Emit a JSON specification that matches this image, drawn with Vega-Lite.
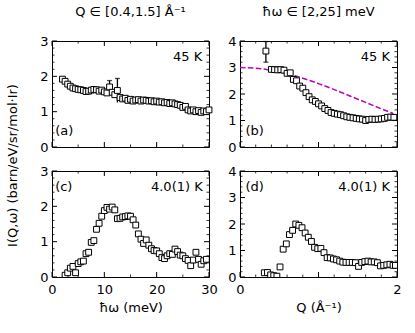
{
"$schema": "https://vega.github.io/schema/vega-lite/v6.json",
"padding": {"left": 5, "top": 5, "right": 0, "bottom": 0},
"background": "white",
"datasets": {
"a": [{"x":2.0,"y":1.92},{"x":2.5,"y":1.86},{"x":3.0,"y":1.78},{"x":3.5,"y":1.72},{"x":4.0,"y":1.67},{"x":4.5,"y":1.65},{"x":5.0,"y":1.63},{"x":5.5,"y":1.62},{"x":6.0,"y":1.60},{"x":6.5,"y":1.57},{"x":7.0,"y":1.58},{"x":7.5,"y":1.61},{"x":8.0,"y":1.63},{"x":8.5,"y":1.62},{"x":9.0,"y":1.58},{"x":9.5,"y":1.61},{"x":10.0,"y":1.56},{"x":10.5,"y":1.53},{"x":11.0,"y":1.70},{"x":11.5,"y":1.55},{"x":12.0,"y":1.48},{"x":12.5,"y":1.60},{"x":13.0,"y":1.40},{"x":13.5,"y":1.36},{"x":14.0,"y":1.38},{"x":14.5,"y":1.32},{"x":15.0,"y":1.35},{"x":15.5,"y":1.30},{"x":16.0,"y":1.33},{"x":16.5,"y":1.34},{"x":17.0,"y":1.30},{"x":17.5,"y":1.33},{"x":18.0,"y":1.32},{"x":18.5,"y":1.30},{"x":19.0,"y":1.31},{"x":19.5,"y":1.28},{"x":20.0,"y":1.30},{"x":20.5,"y":1.27},{"x":21.0,"y":1.28},{"x":21.5,"y":1.25},{"x":22.0,"y":1.26},{"x":22.5,"y":1.23},{"x":23.0,"y":1.25},{"x":23.5,"y":1.22},{"x":24.0,"y":1.20},{"x":24.5,"y":1.18},{"x":25.0,"y":1.12},{"x":25.5,"y":1.15},{"x":26.0,"y":1.05},{"x":26.5,"y":1.02},{"x":27.0,"y":1.05},{"x":27.5,"y":1.00},{"x":28.0,"y":1.03},{"x":28.5,"y":0.98},{"x":29.0,"y":1.02},{"x":29.5,"y":1.00},{"x":30.0,"y":1.05}],
"aerr": [{"x":11.0,"lo":1.52,"hi":1.88},{"x":12.5,"lo":1.26,"hi":1.94}],
"b": [{"x":0.33,"y":3.62},{"x":0.40,"y":2.93},{"x":0.44,"y":2.92},{"x":0.48,"y":2.91},{"x":0.52,"y":2.92},{"x":0.56,"y":2.90},{"x":0.60,"y":2.78},{"x":0.64,"y":2.80},{"x":0.68,"y":2.55},{"x":0.72,"y":2.50},{"x":0.76,"y":2.30},{"x":0.80,"y":2.22},{"x":0.84,"y":2.05},{"x":0.88,"y":1.90},{"x":0.92,"y":1.78},{"x":0.96,"y":1.72},{"x":1.00,"y":1.63},{"x":1.04,"y":1.55},{"x":1.08,"y":1.45},{"x":1.12,"y":1.38},{"x":1.16,"y":1.30},{"x":1.20,"y":1.27},{"x":1.24,"y":1.24},{"x":1.28,"y":1.22},{"x":1.32,"y":1.18},{"x":1.36,"y":1.14},{"x":1.40,"y":1.12},{"x":1.44,"y":1.10},{"x":1.48,"y":1.08},{"x":1.52,"y":1.06},{"x":1.56,"y":1.05},{"x":1.60,"y":1.00},{"x":1.64,"y":1.04},{"x":1.68,"y":1.05},{"x":1.72,"y":1.04},{"x":1.76,"y":1.05},{"x":1.80,"y":1.06},{"x":1.84,"y":1.08},{"x":1.88,"y":1.12},{"x":1.92,"y":1.13},{"x":1.96,"y":1.12}],
"berr": [{"x":0.33,"lo":3.2,"hi":3.98}],
"bline": [{"x":0.0,"y":3.0},{"x":0.1,"y":2.993},{"x":0.2,"y":2.973},{"x":0.3,"y":2.94},{"x":0.4,"y":2.893},{"x":0.5,"y":2.835},{"x":0.6,"y":2.766},{"x":0.7,"y":2.686},{"x":0.8,"y":2.596},{"x":0.9,"y":2.498},{"x":1.0,"y":2.393},{"x":1.1,"y":2.282},{"x":1.2,"y":2.167},{"x":1.3,"y":2.048},{"x":1.4,"y":1.926},{"x":1.5,"y":1.804},{"x":1.6,"y":1.682},{"x":1.7,"y":1.561},{"x":1.8,"y":1.442},{"x":1.9,"y":1.327},{"x":1.95,"y":1.27}],
"c": [{"x":2.5,"y":0.05},{"x":3.0,"y":0.12},{"x":3.5,"y":0.25},{"x":4.0,"y":0.30},{"x":4.5,"y":0.12},{"x":5.0,"y":0.38},{"x":5.5,"y":0.43},{"x":6.0,"y":0.45},{"x":6.5,"y":0.66},{"x":7.0,"y":0.70},{"x":7.5,"y":0.98},{"x":8.0,"y":1.03},{"x":8.5,"y":1.35},{"x":9.0,"y":1.52},{"x":9.5,"y":1.72},{"x":10.0,"y":1.88},{"x":10.5,"y":1.97},{"x":11.0,"y":1.92},{"x":11.5,"y":1.98},{"x":12.0,"y":1.90},{"x":12.5,"y":1.65},{"x":13.0,"y":1.66},{"x":13.5,"y":1.70},{"x":14.0,"y":1.71},{"x":14.5,"y":1.73},{"x":15.0,"y":1.72},{"x":15.5,"y":1.62},{"x":16.0,"y":1.47},{"x":16.5,"y":1.22},{"x":17.0,"y":1.07},{"x":17.5,"y":0.95},{"x":18.0,"y":1.05},{"x":18.5,"y":0.90},{"x":19.0,"y":0.80},{"x":19.5,"y":0.75},{"x":20.0,"y":0.74},{"x":20.5,"y":0.66},{"x":21.0,"y":0.55},{"x":21.5,"y":0.52},{"x":22.0,"y":0.60},{"x":22.5,"y":0.66},{"x":23.0,"y":0.64},{"x":23.5,"y":0.79},{"x":24.0,"y":0.72},{"x":24.5,"y":0.62},{"x":25.0,"y":0.60},{"x":25.5,"y":0.52},{"x":26.0,"y":0.47},{"x":26.5,"y":0.32},{"x":27.0,"y":0.48},{"x":27.5,"y":0.70},{"x":28.0,"y":0.50},{"x":28.5,"y":0.36},{"x":29.0,"y":0.46},{"x":29.5,"y":0.50}],
"d": [{"x":0.31,"y":0.16},{"x":0.35,"y":0.17},{"x":0.39,"y":0.08},{"x":0.43,"y":0.05},{"x":0.47,"y":0.03},{"x":0.51,"y":0.38},{"x":0.55,"y":1.05},{"x":0.59,"y":1.25},{"x":0.63,"y":1.60},{"x":0.67,"y":1.76},{"x":0.71,"y":2.00},{"x":0.75,"y":1.95},{"x":0.79,"y":1.86},{"x":0.83,"y":1.66},{"x":0.87,"y":1.50},{"x":0.91,"y":1.34},{"x":0.95,"y":1.12},{"x":0.99,"y":1.07},{"x":1.03,"y":1.08},{"x":1.07,"y":0.92},{"x":1.11,"y":0.73},{"x":1.15,"y":0.72},{"x":1.19,"y":0.68},{"x":1.23,"y":0.65},{"x":1.27,"y":0.60},{"x":1.31,"y":0.56},{"x":1.35,"y":0.55},{"x":1.39,"y":0.55},{"x":1.43,"y":0.55},{"x":1.47,"y":0.54},{"x":1.51,"y":0.40},{"x":1.55,"y":0.55},{"x":1.59,"y":0.58},{"x":1.63,"y":0.60},{"x":1.67,"y":0.57},{"x":1.71,"y":0.57},{"x":1.75,"y":0.54},{"x":1.79,"y":0.42},{"x":1.83,"y":0.44},{"x":1.87,"y":0.46},{"x":1.91,"y":0.48},{"x":1.95,"y":0.44},{"x":1.98,"y":0.44}],
"one": [{}],
"xmajE": [{"v":0},{"v":10},{"v":20},{"v":30}],
"xminE": [{"v":5},{"v":15},{"v":25}],
"xmajQ": [{"v":0},{"v":1},{"v":2}],
"xminQ": [{"v":0.2},{"v":0.4},{"v":0.6},{"v":0.8},{"v":1.2},{"v":1.4},{"v":1.6},{"v":1.8}],
"ymaj3": [{"v":0},{"v":1},{"v":2},{"v":3}],
"ymin3": [{"v":0.2},{"v":0.4},{"v":0.6},{"v":0.8},{"v":1.2},{"v":1.4},{"v":1.6},{"v":1.8},{"v":2.2},{"v":2.4},{"v":2.6},{"v":2.8}],
"ymaj4": [{"v":0},{"v":1},{"v":2},{"v":3},{"v":4}],
"ymin4": [{"v":0.2},{"v":0.4},{"v":0.6},{"v":0.8},{"v":1.2},{"v":1.4},{"v":1.6},{"v":1.8},{"v":2.2},{"v":2.4},{"v":2.6},{"v":2.8},{"v":3.2},{"v":3.4},{"v":3.6},{"v":3.8}]
},
"columns": 2,
"bounds": "flush",
"spacing": {"row": 24, "column": 31},
"concat": [
{
"width": 157, "height": 106,
"title": {"text": "Q ∈ [0.4,1.5] Å⁻¹", "offset": 16},
"resolve": {"axis": {"x": "independent", "y": "independent"}},
"layer": [
{"data": {"name": "xmajE"}, "mark": {"type": "rule", "strokeWidth": 1, "color": "black"},
 "encoding": {"x": {"field": "v", "type": "quantitative", "scale": {"domain": [0, 30]}, "axis": null}, "y": {"datum": 0, "type": "quantitative", "scale": {"domain": [0, 3]}, "axis": null}, "y2": {"datum": 0.1415}}},
{"data": {"name": "xmajE"}, "mark": {"type": "rule", "strokeWidth": 1, "color": "black"},
 "encoding": {"x": {"field": "v", "type": "quantitative", "scale": {"domain": [0, 30]}, "axis": null}, "y": {"datum": 3, "type": "quantitative", "scale": {"domain": [0, 3]}, "axis": null}, "y2": {"datum": 2.8585}}},
{"data": {"name": "xminE"}, "mark": {"type": "rule", "strokeWidth": 0.8, "color": "black"},
 "encoding": {"x": {"field": "v", "type": "quantitative", "scale": {"domain": [0, 30]}, "axis": null}, "y": {"datum": 0, "type": "quantitative", "scale": {"domain": [0, 3]}, "axis": null}, "y2": {"datum": 0.0708}}},
{"data": {"name": "xminE"}, "mark": {"type": "rule", "strokeWidth": 0.8, "color": "black"},
 "encoding": {"x": {"field": "v", "type": "quantitative", "scale": {"domain": [0, 30]}, "axis": null}, "y": {"datum": 3, "type": "quantitative", "scale": {"domain": [0, 3]}, "axis": null}, "y2": {"datum": 2.9292}}},
{"data": {"name": "ymaj3"}, "mark": {"type": "rule", "strokeWidth": 1, "color": "black"},
 "encoding": {"y": {"field": "v", "type": "quantitative", "scale": {"domain": [0, 3]}, "axis": null}, "x": {"datum": 0, "type": "quantitative", "scale": {"domain": [0, 30]}, "axis": null}, "x2": {"datum": 0.955}}},
{"data": {"name": "ymaj3"}, "mark": {"type": "rule", "strokeWidth": 1, "color": "black"},
 "encoding": {"y": {"field": "v", "type": "quantitative", "scale": {"domain": [0, 3]}, "axis": null}, "x": {"datum": 30, "type": "quantitative", "scale": {"domain": [0, 30]}, "axis": null}, "x2": {"datum": 29.045}}},
{"data": {"name": "ymin3"}, "mark": {"type": "rule", "strokeWidth": 0.8, "color": "black"},
 "encoding": {"y": {"field": "v", "type": "quantitative", "scale": {"domain": [0, 3]}, "axis": null}, "x": {"datum": 0, "type": "quantitative", "scale": {"domain": [0, 30]}, "axis": null}, "x2": {"datum": 0.478}}},
{"data": {"name": "ymin3"}, "mark": {"type": "rule", "strokeWidth": 0.8, "color": "black"},
 "encoding": {"y": {"field": "v", "type": "quantitative", "scale": {"domain": [0, 3]}, "axis": null}, "x": {"datum": 30, "type": "quantitative", "scale": {"domain": [0, 30]}, "axis": null}, "x2": {"datum": 29.522}}},
{"data": {"name": "aerr"}, "mark": {"type": "rule", "color": "black", "strokeWidth": 1.3},
 "encoding": {"x": {"field": "x", "type": "quantitative", "scale": {"domain": [0, 30]}, "axis": null},
  "y": {"field": "lo", "type": "quantitative", "scale": {"domain": [0, 3]}, "axis": null}, "y2": {"field": "hi"}}},
{"data": {"name": "aerr"}, "mark": {"type": "tick", "orient": "horizontal", "size": 5, "thickness": 1.3, "color": "black"},
 "encoding": {"x": {"field": "x", "type": "quantitative", "scale": {"domain": [0, 30]}, "axis": null},
  "y": {"field": "hi", "type": "quantitative", "scale": {"domain": [0, 3]}, "axis": null}}},
{"data": {"name": "a"}, "mark": {"type": "point", "shape": "square", "size": 34, "filled": true, "fill": "white", "stroke": "black", "strokeWidth": 1, "opacity": 1},
 "encoding": {"x": {"field": "x", "type": "quantitative", "scale": {"domain": [0, 30]}, "axis": null},
  "y": {"field": "y", "type": "quantitative", "scale": {"domain": [0, 3]}, "axis": {"orient": "left", "values": [0,1,2,3], "format": "d", "ticks": false, "labelPadding": 4, "title": "I(Q,ω) (barn/eV/sr/mol·Ir)", "titleX": -40, "titleY": 124, "titleAngle": 270, "titleAlign": "center", "titleBaseline": "middle"}}}},
{"data": {"name": "one"}, "mark": {"type": "text", "align": "right", "baseline": "middle"},
 "encoding": {"x": {"datum": 28.7, "type": "quantitative", "scale": {"domain": [0, 30]}, "axis": null},
  "y": {"datum": 2.55, "type": "quantitative", "scale": {"domain": [0, 3]}, "axis": null}, "text": {"value": "45 K"}}},
{"data": {"name": "one"}, "mark": {"type": "text", "align": "left", "baseline": "middle"},
 "encoding": {"x": {"datum": 0.6, "type": "quantitative", "scale": {"domain": [0, 30]}, "axis": null},
  "y": {"datum": 0.45, "type": "quantitative", "scale": {"domain": [0, 3]}, "axis": null}, "text": {"value": "(a)"}}}
]
},
{
"width": 157, "height": 106,
"title": {"text": "ħω ∈ [2,25] meV", "offset": 16},
"resolve": {"axis": {"x": "independent", "y": "independent"}},
"layer": [
{"data": {"name": "xmajQ"}, "mark": {"type": "rule", "strokeWidth": 1, "color": "black"},
 "encoding": {"x": {"field": "v", "type": "quantitative", "scale": {"domain": [0, 2]}, "axis": null}, "y": {"datum": 0, "type": "quantitative", "scale": {"domain": [0, 4]}, "axis": null}, "y2": {"datum": 0.1887}}},
{"data": {"name": "xmajQ"}, "mark": {"type": "rule", "strokeWidth": 1, "color": "black"},
 "encoding": {"x": {"field": "v", "type": "quantitative", "scale": {"domain": [0, 2]}, "axis": null}, "y": {"datum": 4, "type": "quantitative", "scale": {"domain": [0, 4]}, "axis": null}, "y2": {"datum": 3.8113}}},
{"data": {"name": "xminQ"}, "mark": {"type": "rule", "strokeWidth": 0.8, "color": "black"},
 "encoding": {"x": {"field": "v", "type": "quantitative", "scale": {"domain": [0, 2]}, "axis": null}, "y": {"datum": 0, "type": "quantitative", "scale": {"domain": [0, 4]}, "axis": null}, "y2": {"datum": 0.0943}}},
{"data": {"name": "xminQ"}, "mark": {"type": "rule", "strokeWidth": 0.8, "color": "black"},
 "encoding": {"x": {"field": "v", "type": "quantitative", "scale": {"domain": [0, 2]}, "axis": null}, "y": {"datum": 4, "type": "quantitative", "scale": {"domain": [0, 4]}, "axis": null}, "y2": {"datum": 3.9057}}},
{"data": {"name": "ymaj4"}, "mark": {"type": "rule", "strokeWidth": 1, "color": "black"},
 "encoding": {"y": {"field": "v", "type": "quantitative", "scale": {"domain": [0, 4]}, "axis": null}, "x": {"datum": 0, "type": "quantitative", "scale": {"domain": [0, 2]}, "axis": null}, "x2": {"datum": 0.0637}}},
{"data": {"name": "ymaj4"}, "mark": {"type": "rule", "strokeWidth": 1, "color": "black"},
 "encoding": {"y": {"field": "v", "type": "quantitative", "scale": {"domain": [0, 4]}, "axis": null}, "x": {"datum": 2, "type": "quantitative", "scale": {"domain": [0, 2]}, "axis": null}, "x2": {"datum": 1.9363}}},
{"data": {"name": "ymin4"}, "mark": {"type": "rule", "strokeWidth": 0.8, "color": "black"},
 "encoding": {"y": {"field": "v", "type": "quantitative", "scale": {"domain": [0, 4]}, "axis": null}, "x": {"datum": 0, "type": "quantitative", "scale": {"domain": [0, 2]}, "axis": null}, "x2": {"datum": 0.0318}}},
{"data": {"name": "ymin4"}, "mark": {"type": "rule", "strokeWidth": 0.8, "color": "black"},
 "encoding": {"y": {"field": "v", "type": "quantitative", "scale": {"domain": [0, 4]}, "axis": null}, "x": {"datum": 2, "type": "quantitative", "scale": {"domain": [0, 2]}, "axis": null}, "x2": {"datum": 1.9682}}},
{"data": {"name": "bline"}, "mark": {"type": "line", "color": "#bf00bf", "strokeWidth": 1.5, "strokeDash": [5.5, 2.4]},
 "encoding": {"x": {"field": "x", "type": "quantitative", "scale": {"domain": [0, 2]}, "axis": null},
  "y": {"field": "y", "type": "quantitative", "scale": {"domain": [0, 4]}, "axis": null}}},
{"data": {"name": "berr"}, "mark": {"type": "rule", "color": "black", "strokeWidth": 1.3, "clip": true},
 "encoding": {"x": {"field": "x", "type": "quantitative", "scale": {"domain": [0, 2]}, "axis": null},
  "y": {"field": "lo", "type": "quantitative", "scale": {"domain": [0, 4]}, "axis": null}, "y2": {"field": "hi"}}},
{"data": {"name": "berr"}, "mark": {"type": "tick", "orient": "horizontal", "size": 5, "thickness": 1.3, "color": "black"},
 "encoding": {"x": {"field": "x", "type": "quantitative", "scale": {"domain": [0, 2]}, "axis": null},
  "y": {"field": "hi", "type": "quantitative", "scale": {"domain": [0, 4]}, "axis": null}}},
{"data": {"name": "berr"}, "mark": {"type": "tick", "orient": "horizontal", "size": 5, "thickness": 1.3, "color": "black"},
 "encoding": {"x": {"field": "x", "type": "quantitative", "scale": {"domain": [0, 2]}, "axis": null},
  "y": {"field": "lo", "type": "quantitative", "scale": {"domain": [0, 4]}, "axis": null}}},
{"data": {"name": "b"}, "mark": {"type": "point", "shape": "square", "size": 34, "filled": true, "fill": "white", "stroke": "black", "strokeWidth": 1, "opacity": 1},
 "encoding": {"x": {"field": "x", "type": "quantitative", "scale": {"domain": [0, 2]}, "axis": null},
  "y": {"field": "y", "type": "quantitative", "scale": {"domain": [0, 4]}, "axis": {"orient": "left", "values": [0,1,2,3,4], "format": "d", "ticks": false, "labelPadding": 4, "title": null}}}},
{"data": {"name": "one"}, "mark": {"type": "text", "align": "right", "baseline": "middle"},
 "encoding": {"x": {"datum": 1.91, "type": "quantitative", "scale": {"domain": [0, 2]}, "axis": null},
  "y": {"datum": 3.4, "type": "quantitative", "scale": {"domain": [0, 4]}, "axis": null}, "text": {"value": "45 K"}}},
{"data": {"name": "one"}, "mark": {"type": "text", "align": "left", "baseline": "middle"},
 "encoding": {"x": {"datum": 0.07, "type": "quantitative", "scale": {"domain": [0, 2]}, "axis": null},
  "y": {"datum": 0.6, "type": "quantitative", "scale": {"domain": [0, 4]}, "axis": null}, "text": {"value": "(b)"}}}
]
},
{
"width": 157, "height": 106,
"resolve": {"axis": {"x": "independent", "y": "independent"}},
"layer": [
{"data": {"name": "xmajE"}, "mark": {"type": "rule", "strokeWidth": 1, "color": "black"},
 "encoding": {"x": {"field": "v", "type": "quantitative", "scale": {"domain": [0, 30]}, "axis": null}, "y": {"datum": 0, "type": "quantitative", "scale": {"domain": [0, 3]}, "axis": null}, "y2": {"datum": 0.1415}}},
{"data": {"name": "xmajE"}, "mark": {"type": "rule", "strokeWidth": 1, "color": "black"},
 "encoding": {"x": {"field": "v", "type": "quantitative", "scale": {"domain": [0, 30]}, "axis": null}, "y": {"datum": 3, "type": "quantitative", "scale": {"domain": [0, 3]}, "axis": null}, "y2": {"datum": 2.8585}}},
{"data": {"name": "xminE"}, "mark": {"type": "rule", "strokeWidth": 0.8, "color": "black"},
 "encoding": {"x": {"field": "v", "type": "quantitative", "scale": {"domain": [0, 30]}, "axis": null}, "y": {"datum": 0, "type": "quantitative", "scale": {"domain": [0, 3]}, "axis": null}, "y2": {"datum": 0.0708}}},
{"data": {"name": "xminE"}, "mark": {"type": "rule", "strokeWidth": 0.8, "color": "black"},
 "encoding": {"x": {"field": "v", "type": "quantitative", "scale": {"domain": [0, 30]}, "axis": null}, "y": {"datum": 3, "type": "quantitative", "scale": {"domain": [0, 3]}, "axis": null}, "y2": {"datum": 2.9292}}},
{"data": {"name": "ymaj3"}, "mark": {"type": "rule", "strokeWidth": 1, "color": "black"},
 "encoding": {"y": {"field": "v", "type": "quantitative", "scale": {"domain": [0, 3]}, "axis": null}, "x": {"datum": 0, "type": "quantitative", "scale": {"domain": [0, 30]}, "axis": null}, "x2": {"datum": 0.955}}},
{"data": {"name": "ymaj3"}, "mark": {"type": "rule", "strokeWidth": 1, "color": "black"},
 "encoding": {"y": {"field": "v", "type": "quantitative", "scale": {"domain": [0, 3]}, "axis": null}, "x": {"datum": 30, "type": "quantitative", "scale": {"domain": [0, 30]}, "axis": null}, "x2": {"datum": 29.045}}},
{"data": {"name": "ymin3"}, "mark": {"type": "rule", "strokeWidth": 0.8, "color": "black"},
 "encoding": {"y": {"field": "v", "type": "quantitative", "scale": {"domain": [0, 3]}, "axis": null}, "x": {"datum": 0, "type": "quantitative", "scale": {"domain": [0, 30]}, "axis": null}, "x2": {"datum": 0.478}}},
{"data": {"name": "ymin3"}, "mark": {"type": "rule", "strokeWidth": 0.8, "color": "black"},
 "encoding": {"y": {"field": "v", "type": "quantitative", "scale": {"domain": [0, 3]}, "axis": null}, "x": {"datum": 30, "type": "quantitative", "scale": {"domain": [0, 30]}, "axis": null}, "x2": {"datum": 29.522}}},
{"data": {"name": "c"}, "mark": {"type": "point", "shape": "square", "size": 34, "filled": true, "fill": "white", "stroke": "black", "strokeWidth": 1, "opacity": 1, "clip": true},
 "encoding": {"x": {"field": "x", "type": "quantitative", "scale": {"domain": [0, 30]}, "axis": {"orient": "bottom", "values": [0,10,20,30], "format": "d", "ticks": false, "labelPadding": 6, "title": "ħω (meV)", "titlePadding": 5}},
  "y": {"field": "y", "type": "quantitative", "scale": {"domain": [0, 3]}, "axis": {"orient": "left", "values": [0,1,2,3], "format": "d", "ticks": false, "labelPadding": 4, "title": null}}}},
{"data": {"name": "one"}, "mark": {"type": "text", "align": "left", "baseline": "middle"},
 "encoding": {"x": {"datum": 0.6, "type": "quantitative", "scale": {"domain": [0, 30]}, "axis": null},
  "y": {"datum": 2.55, "type": "quantitative", "scale": {"domain": [0, 3]}, "axis": null}, "text": {"value": "(c)"}}},
{"data": {"name": "one"}, "mark": {"type": "text", "align": "right", "baseline": "middle"},
 "encoding": {"x": {"datum": 28.8, "type": "quantitative", "scale": {"domain": [0, 30]}, "axis": null},
  "y": {"datum": 2.55, "type": "quantitative", "scale": {"domain": [0, 3]}, "axis": null}, "text": {"value": "4.0(1) K"}}}
]
},
{
"width": 157, "height": 106,
"resolve": {"axis": {"x": "independent", "y": "independent"}},
"layer": [
{"data": {"name": "xmajQ"}, "mark": {"type": "rule", "strokeWidth": 1, "color": "black"},
 "encoding": {"x": {"field": "v", "type": "quantitative", "scale": {"domain": [0, 2]}, "axis": null}, "y": {"datum": 0, "type": "quantitative", "scale": {"domain": [0, 4]}, "axis": null}, "y2": {"datum": 0.1887}}},
{"data": {"name": "xmajQ"}, "mark": {"type": "rule", "strokeWidth": 1, "color": "black"},
 "encoding": {"x": {"field": "v", "type": "quantitative", "scale": {"domain": [0, 2]}, "axis": null}, "y": {"datum": 4, "type": "quantitative", "scale": {"domain": [0, 4]}, "axis": null}, "y2": {"datum": 3.8113}}},
{"data": {"name": "xminQ"}, "mark": {"type": "rule", "strokeWidth": 0.8, "color": "black"},
 "encoding": {"x": {"field": "v", "type": "quantitative", "scale": {"domain": [0, 2]}, "axis": null}, "y": {"datum": 0, "type": "quantitative", "scale": {"domain": [0, 4]}, "axis": null}, "y2": {"datum": 0.0943}}},
{"data": {"name": "xminQ"}, "mark": {"type": "rule", "strokeWidth": 0.8, "color": "black"},
 "encoding": {"x": {"field": "v", "type": "quantitative", "scale": {"domain": [0, 2]}, "axis": null}, "y": {"datum": 4, "type": "quantitative", "scale": {"domain": [0, 4]}, "axis": null}, "y2": {"datum": 3.9057}}},
{"data": {"name": "ymaj4"}, "mark": {"type": "rule", "strokeWidth": 1, "color": "black"},
 "encoding": {"y": {"field": "v", "type": "quantitative", "scale": {"domain": [0, 4]}, "axis": null}, "x": {"datum": 0, "type": "quantitative", "scale": {"domain": [0, 2]}, "axis": null}, "x2": {"datum": 0.0637}}},
{"data": {"name": "ymaj4"}, "mark": {"type": "rule", "strokeWidth": 1, "color": "black"},
 "encoding": {"y": {"field": "v", "type": "quantitative", "scale": {"domain": [0, 4]}, "axis": null}, "x": {"datum": 2, "type": "quantitative", "scale": {"domain": [0, 2]}, "axis": null}, "x2": {"datum": 1.9363}}},
{"data": {"name": "ymin4"}, "mark": {"type": "rule", "strokeWidth": 0.8, "color": "black"},
 "encoding": {"y": {"field": "v", "type": "quantitative", "scale": {"domain": [0, 4]}, "axis": null}, "x": {"datum": 0, "type": "quantitative", "scale": {"domain": [0, 2]}, "axis": null}, "x2": {"datum": 0.0318}}},
{"data": {"name": "ymin4"}, "mark": {"type": "rule", "strokeWidth": 0.8, "color": "black"},
 "encoding": {"y": {"field": "v", "type": "quantitative", "scale": {"domain": [0, 4]}, "axis": null}, "x": {"datum": 2, "type": "quantitative", "scale": {"domain": [0, 2]}, "axis": null}, "x2": {"datum": 1.9682}}},
{"data": {"name": "d"}, "mark": {"type": "point", "shape": "square", "size": 34, "filled": true, "fill": "white", "stroke": "black", "strokeWidth": 1, "opacity": 1, "clip": true},
 "encoding": {"x": {"field": "x", "type": "quantitative", "scale": {"domain": [0, 2]}, "axis": {"orient": "bottom", "values": [0,1,2], "format": "d", "ticks": false, "labelPadding": 6, "title": "Q (Å⁻¹)", "titlePadding": 5}},
  "y": {"field": "y", "type": "quantitative", "scale": {"domain": [0, 4]}, "axis": {"orient": "left", "values": [0,1,2,3,4], "format": "d", "ticks": false, "labelPadding": 4, "title": null}}}},
{"data": {"name": "one"}, "mark": {"type": "text", "align": "left", "baseline": "middle"},
 "encoding": {"x": {"datum": 0.07, "type": "quantitative", "scale": {"domain": [0, 2]}, "axis": null},
  "y": {"datum": 3.4, "type": "quantitative", "scale": {"domain": [0, 4]}, "axis": null}, "text": {"value": "(d)"}}},
{"data": {"name": "one"}, "mark": {"type": "text", "align": "right", "baseline": "middle"},
 "encoding": {"x": {"datum": 1.91, "type": "quantitative", "scale": {"domain": [0, 2]}, "axis": null},
  "y": {"datum": 3.4, "type": "quantitative", "scale": {"domain": [0, 4]}, "axis": null}, "text": {"value": "4.0(1) K"}}}
]
}
],
"config": {
 "font": "DejaVu Sans",
 "view": {"stroke": "black", "strokeWidth": 1},
 "axis": {"grid": false, "domain": false, "tickColor": "black", "tickWidth": 1, "labelFont": "DejaVu Sans", "labelFontSize": 13, "labelColor": "black", "titleFont": "DejaVu Sans", "titleFontSize": 13, "titleFontWeight": "normal", "titleColor": "black", "labelFlush": false, "labelOverlap": false},
 "title": {"font": "DejaVu Sans", "fontSize": 13, "fontWeight": "normal", "color": "black", "anchor": "middle"},
 "text": {"font": "DejaVu Sans", "fontSize": 13, "color": "black"}
}
}
